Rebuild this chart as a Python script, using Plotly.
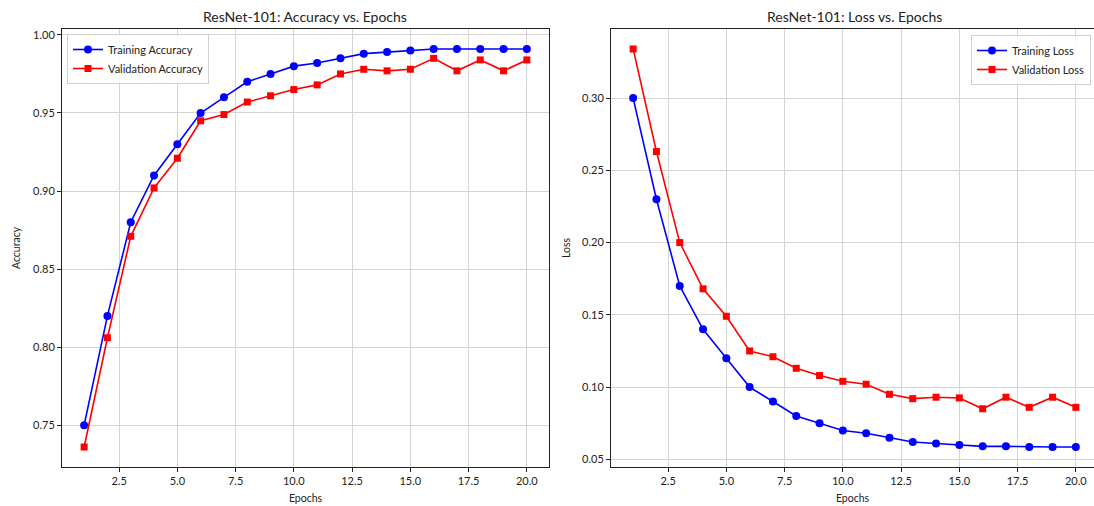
import plotly.graph_objects as go

epochs = list(range(1, 21))
train_acc = [0.750, 0.820, 0.880, 0.910, 0.930, 0.950, 0.960, 0.970, 0.975, 0.980,
             0.982, 0.985, 0.988, 0.989, 0.990, 0.991, 0.991, 0.991, 0.991, 0.991]
val_acc = [0.736, 0.806, 0.871, 0.902, 0.921, 0.945, 0.949, 0.957, 0.961, 0.965,
           0.968, 0.975, 0.978, 0.977, 0.978, 0.985, 0.977, 0.984, 0.977, 0.984]
train_loss = [0.300, 0.230, 0.170, 0.140, 0.120, 0.100, 0.090, 0.080, 0.075, 0.070,
              0.068, 0.065, 0.062, 0.061, 0.060, 0.059, 0.059, 0.0585, 0.0585, 0.0585]
val_loss = [0.334, 0.263, 0.200, 0.168, 0.149, 0.125, 0.121, 0.113, 0.108, 0.104,
            0.102, 0.095, 0.092, 0.093, 0.0925, 0.085, 0.093, 0.086, 0.093, 0.086]

W, H = 1094, 506
FONT = "Lato"
BLUE = "#0000ff"
RED = "#ff0000"
GRID = "#d4d4d4"
AX = "#222222"
TXT = "#222222"


def px_x(p):
    return p / W


def px_y(p):
    return 1 - p / H


fig = go.Figure()

fig.add_trace(go.Scatter(x=epochs, y=train_acc, mode="lines+markers", name="Training Accuracy",
                         line=dict(color=BLUE, width=1.6), marker=dict(symbol="circle", size=8, color=BLUE),
                         xaxis="x", yaxis="y", legend="legend"))
fig.add_trace(go.Scatter(x=epochs, y=val_acc, mode="lines+markers", name="Validation Accuracy",
                         line=dict(color=RED, width=1.6), marker=dict(symbol="square", size=7, color=RED),
                         xaxis="x", yaxis="y", legend="legend"))
fig.add_trace(go.Scatter(x=epochs, y=train_loss, mode="lines+markers", name="Training Loss",
                         line=dict(color=BLUE, width=1.6), marker=dict(symbol="circle", size=8, color=BLUE),
                         xaxis="x2", yaxis="y2", legend="legend2"))
fig.add_trace(go.Scatter(x=epochs, y=val_loss, mode="lines+markers", name="Validation Loss",
                         line=dict(color=RED, width=1.6), marker=dict(symbol="square", size=7, color=RED),
                         xaxis="x2", yaxis="y2", legend="legend2"))

ydom = [px_y(467), px_y(29)]
left_dom = [px_x(62), px_x(549)]
right_dom = [px_x(611), 1.0]
# right panel extends past the image edge; keep same scale (487 px for 20.9 units)
right_xmax = 0.05 + (W - 611) / 487 * 20.9

common_x = dict(showgrid=True, gridcolor=GRID, gridwidth=1, zeroline=False,
                ticks="outside", ticklen=4, tickcolor=AX, tickwidth=1,
                showline=True, linecolor=AX, linewidth=1,
                dtick=2.5, tick0=0, tickformat=".1f",
                tickfont=dict(family=FONT, size=11, color=TXT),
                title=dict(text="Epochs", font=dict(family=FONT, size=10.5, color=TXT), standoff=8))
common_y = dict(showgrid=True, gridcolor=GRID, gridwidth=1, zeroline=False,
                ticks="outside", ticklen=4, tickcolor=AX, tickwidth=1,
                showline=True, linecolor=AX, linewidth=1,
                dtick=0.05, tick0=0, tickformat=".2f",
                tickfont=dict(family=FONT, size=11, color=TXT))

legend_style = dict(bgcolor="rgba(255,255,255,0.85)", bordercolor="#d0d0d0", borderwidth=1,
                    font=dict(family=FONT, size=11, color=TXT), tracegroupgap=0, itemwidth=30)

fig.update_layout(
    width=W, height=H,
    margin=dict(l=0, r=0, t=0, b=0),
    paper_bgcolor="white", plot_bgcolor="white",
    font=dict(family=FONT, color=TXT),
    xaxis=dict(domain=left_dom, anchor="y", range=[0.05, 20.95], mirror=True, **common_x),
    yaxis=dict(domain=ydom, anchor="x", range=[0.7232, 1.0038], mirror=True,
               title=dict(text="Accuracy", font=dict(family=FONT, size=10.5, color=TXT), standoff=10),
               **common_y),
    xaxis2=dict(domain=right_dom, anchor="y2", range=[0.05, right_xmax], mirror=True, **common_x),
    yaxis2=dict(domain=ydom, anchor="x2", range=[0.0447, 0.3478], mirror=False,
                title=dict(text="Loss", font=dict(family=FONT, size=10.5, color=TXT), standoff=9),
                **common_y),
    legend=dict(x=px_x(67), y=px_y(34), xanchor="left", yanchor="top", **legend_style),
    legend2=dict(x=px_x(1091), y=px_y(35), xanchor="right", yanchor="top", **legend_style),
    annotations=[
        dict(text="ResNet-101: Accuracy vs. Epochs", x=(left_dom[0] + left_dom[1]) / 2, y=px_y(16),
             xref="paper", yref="paper", showarrow=False, xanchor="center", yanchor="middle",
             font=dict(family=FONT, size=14, color=TXT)),
        dict(text="ResNet-101: Loss vs. Epochs", x=(px_x(611) + px_x(1098)) / 2, y=px_y(16),
             xref="paper", yref="paper", showarrow=False, xanchor="center", yanchor="middle",
             font=dict(family=FONT, size=14, color=TXT)),
    ],
    showlegend=True,
)

fig.write_html("out.html", config={"displayModeBar": False},
               post_script="document.body.style.margin='0';document.body.style.overflow='hidden';")
